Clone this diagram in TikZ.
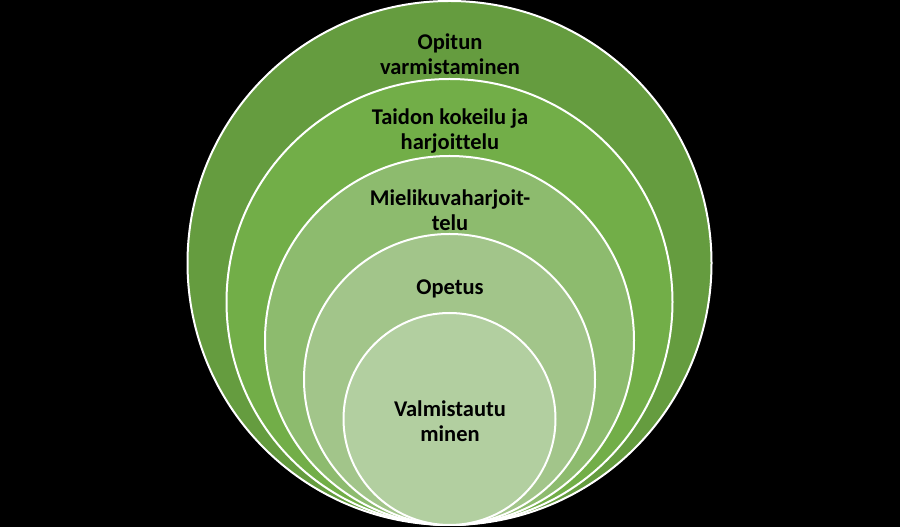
\documentclass[tikz,border=0pt]{standalone}
\usepackage{fontspec}
\setmainfont{Carlito}[Ligatures=NoCommon]
\usepackage{xcolor}
\usepackage{tikz}

\definecolor{ringa}{HTML}{659C3F}
\definecolor{ringb}{HTML}{72AE48}
\definecolor{ringc}{HTML}{8DBB6E}
\definecolor{ringd}{HTML}{A2C58A}
\definecolor{ringe}{HTML}{B2CFA0}

\begin{document}
\begin{tikzpicture}[x=1pt, y=1pt, ring/.style={draw=white, line width=2pt},
    lbl/.style={font=\fontsize{22.5}{25.5}\selectfont\bfseries, align=center, text=black}]
    \fill[black] (0,0) rectangle (900,527);
    \useasboundingbox (0,0) rectangle (900,527);
    \filldraw[ring, fill=ringa] (449.5,264) circle (262);
    \filldraw[ring, fill=ringb] (449.5,225) circle (223);
    \filldraw[ring, fill=ringc] (449.5,186.5) circle (184.5);
    \filldraw[ring, fill=ringd] (449.5,147.5) circle (145.5);
    \filldraw[ring, fill=ringe] (449.5,108) circle (106);
    \node[lbl] (varmistus) at (450,473) {Opitun\\varmistaminen};
    \node[lbl] (kokeilu) at (450,396) {Taidon kokeilu ja\\harjoittelu};
    \node[lbl] (mielikuva) at (450,317) {Mielikuvaharjoit-\\telu};
    \node[lbl] (opetus) at (450,238) {Opetus};
    \node[lbl] (valmistautuminen) at (450,106) {Valmistautu\\minen};
\end{tikzpicture}
\end{document}
